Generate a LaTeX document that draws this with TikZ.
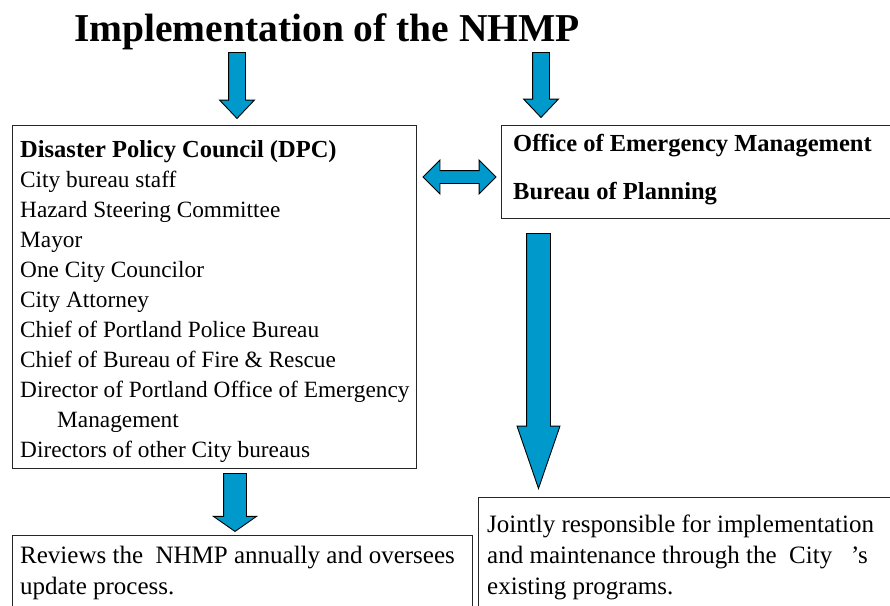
\documentclass[tikz,border=0pt]{standalone}
\usepackage{fontspec}
\setmainfont{Liberation Serif}
\usetikzlibrary{positioning}
\usetikzlibrary{shapes.arrows}
\definecolor{arrowblue}{RGB}{0,153,204}
\tikzset{
    % Dark frame round each block of text
    text box/.style={
        draw=black!85, line width=1.2pt, rectangle,
        anchor=north west, inner sep=0},
%
    % Text set inside a frame
    box text/.style={anchor=north west, inner sep=0, align=left},
%
    % Blue block arrow pointing down
    block arrow/.style={
        draw=black, line width=0.9pt, fill=arrowblue,
        single arrow, single arrow head indent=0,
        inner xsep=0, rotate=-90, anchor=tail},
%
    % Blue block arrow pointing both ways
    both arrow/.style={
        draw=black, line width=0.9pt, fill=arrowblue,
        double arrow, double arrow head indent=0, inner xsep=0}}

\begin{document}
\begin{tikzpicture}[x=1pt, y=-1pt]
\useasboundingbox (0,0) rectangle (890,605);
\clip (0,0) rectangle (890,605);

% Title
\node [anchor=base, font=\fontsize{39.5}{40}\selectfont\bfseries]
    (title) at (327,41) {Implementation of the NHMP};

% Arrows down from the title
\node [block arrow, inner ysep=8pt, single arrow head extend=9pt,
    single arrow tip angle=87, minimum height=66pt]
    (dpc arrow) at (237,52) {};
\node [block arrow, inner ysep=8pt, single arrow head extend=9pt,
    single arrow tip angle=87, minimum height=65pt]
    (oem arrow) at (541,52) {};

% Disaster Policy Council
\node [text box, minimum width=404pt, minimum height=343pt]
    (dpc) at (12,125) {};
\node [box text, below right=15pt and 8pt of dpc.north west,
    font=\fontsize{23.3}{30}\selectfont]
    (dpc text) {{\bfseries\fontsize{24.5}{30}\selectfont Disaster Policy Council (DPC)}\\
    City bureau staff\\
    Hazard Steering Committee\\
    Mayor\\
    One City Councilor\\
    City Attorney\\
    Chief of Portland Police Bureau\\
    Chief of Bureau of Fire \& Rescue\\
    Director of Portland Office of Emergency\\
    \hspace*{37pt}Management\\
    Directors of other City bureaus};

% Office of Emergency Management and Bureau of Planning
\node [text box, minimum width=400pt, minimum height=93pt]
    (oem) at (501,125) {};
\node [box text, below right=9pt and 12pt of oem.north west,
    font=\fontsize{24.5}{48}\selectfont\bfseries]
    (oem text) {Office of Emergency Management\\
    Bureau of Planning};

\node [both arrow, inner ysep=6pt, double arrow head extend=10.5pt,
    minimum height=73pt] (link) at (459.5,177) {};

% Outcomes
\node [block arrow, inner ysep=11.5pt, single arrow head extend=9.5pt,
    single arrow tip angle=38, minimum height=255pt]
    (oem down) at (538.5,233) {};
\node [block arrow, inner ysep=11pt, single arrow head extend=10pt,
    single arrow tip angle=110, minimum height=58pt]
    (dpc down) at (235,473) {};

\node [text box, minimum width=460pt, minimum height=100pt]
    (review) at (12,535) {};
\node [box text, below right=11pt and 8pt of review.north west,
    font=\fontsize{25}{31}\selectfont]
    (review text) {Reviews the \ NHMP annually and oversees\\
    update process.};

\node [text box, minimum width=430pt, minimum height=140pt]
    (jointly) at (478,497) {};
\node [box text, below right=18pt and 9pt of jointly.north west,
    font=\fontsize{25}{31}\selectfont]
    (jointly text) {Jointly responsible for implementation\\
    and maintenance through the \ City \ \ 's\\
    existing programs.};

\end{tikzpicture}
\end{document}
